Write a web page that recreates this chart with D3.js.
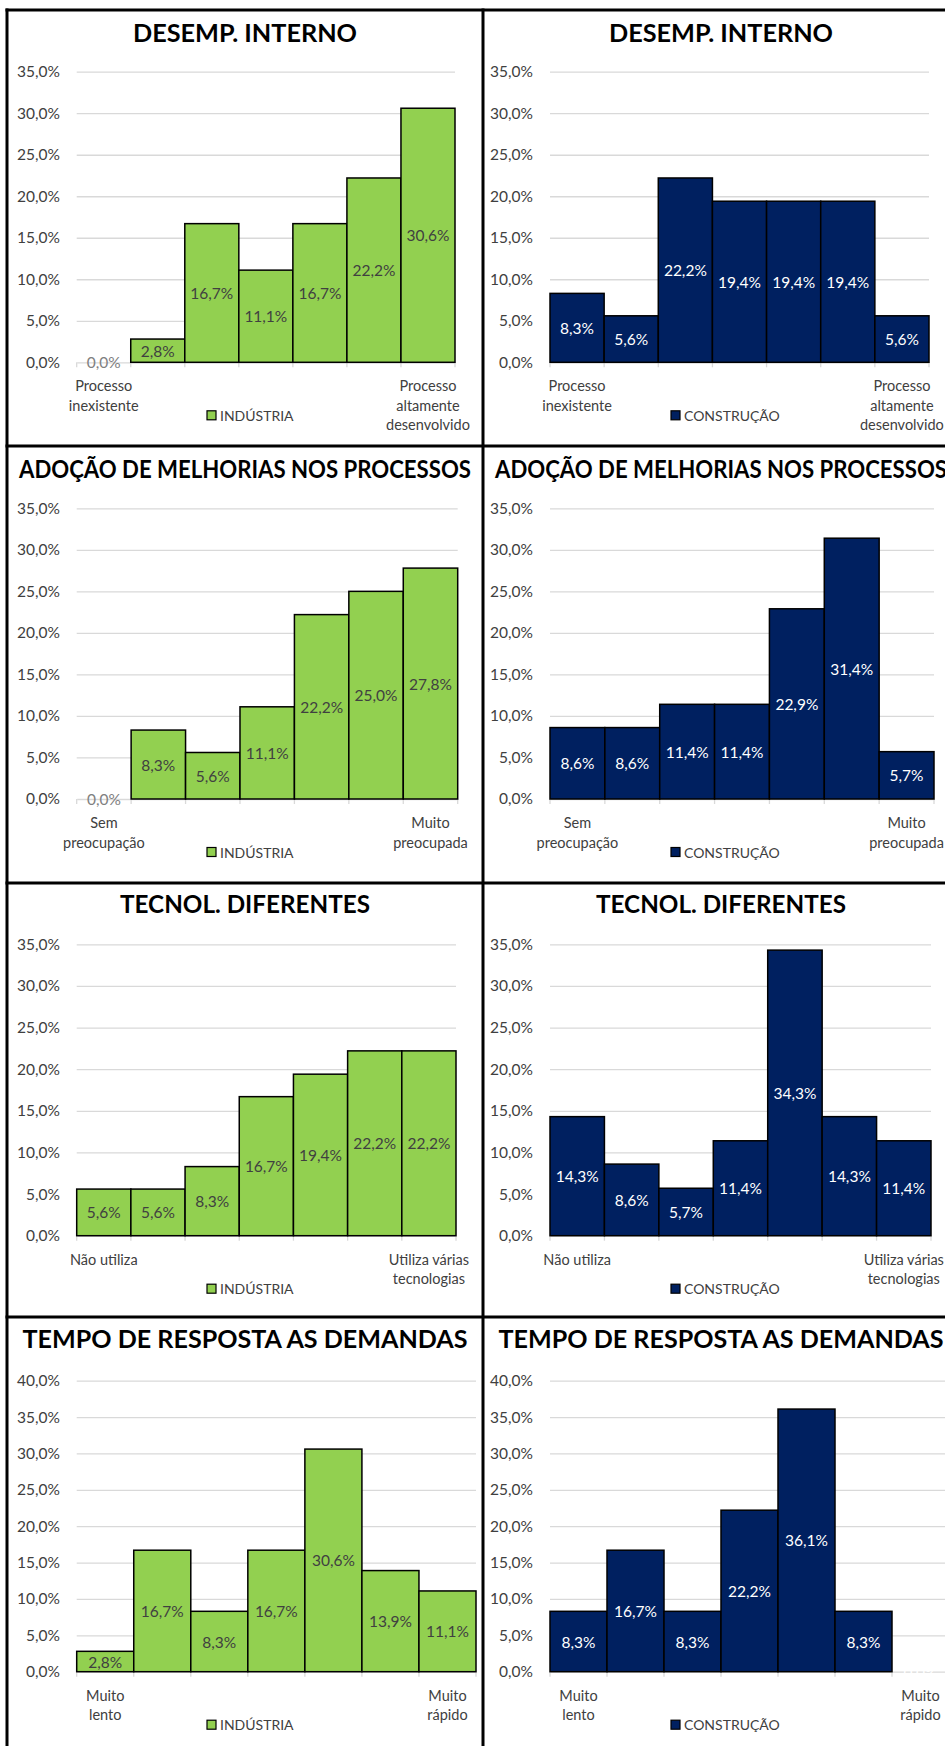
<!DOCTYPE html>
<html>
<head>
<meta charset="utf-8">
<script src="https://cdn.jsdelivr.net/npm/d3@7"></script>
<style>
  html, body { margin: 0; padding: 0; background: #fff; }
  svg { display: block; }
  text { font-family: Lato, "Open Sans", sans-serif; }
</style>
</head>
<body>
<svg id="chart" width="945" height="1746"></svg>
<script>
// Chart titles, one per row (both columns share the title)
const titles = [
  "DESEMP. INTERNO",
  "ADOÇÃO DE MELHORIAS NOS PROCESSOS",
  "TECNOL. DIFERENTES",
  "TEMPO DE RESPOSTA AS DEMANDAS"
];

// Scale end labels (first and last category)
const leftLabels = [
  ["Processo", "inexistente"],
  ["Sem", "preocupação"],
  ["Não utiliza"],
  ["Muito", "lento"]
];
const rightLabels = [
  ["Processo", "altamente", "desenvolvido"],
  ["Muito", "preocupada"],
  ["Utiliza várias", "tecnologias"],
  ["Muito", "rápido"]
];

// Seven-point scale categories
const categories = ["1", "2", "3", "4", "5", "6", "7"];

// Percent of respondents, INDÚSTRIA
const industria = [
  [0.0, 2.8, 16.7, 11.1, 16.7, 22.2, 30.6],
  [0.0, 8.3, 5.6, 11.1, 22.2, 25.0, 27.8],
  [5.6, 5.6, 8.3, 16.7, 19.4, 22.2, 22.2],
  [2.8, 16.7, 8.3, 16.7, 30.6, 13.9, 11.1]
];

// Percent of respondents, CONSTRUÇÃO
const construcao = [
  [8.3, 5.6, 22.2, 19.4, 19.4, 19.4, 5.6],
  [8.6, 8.6, 11.4, 11.4, 22.9, 31.4, 5.7],
  [14.3, 8.6, 5.7, 11.4, 34.3, 14.3, 11.4],
  [8.3, 16.7, 8.3, 22.2, 36.1, 8.3, 0.0]
];

// Value axis maximum per row
const yMax = [35, 35, 35, 40];

const seriesNames = ["INDÚSTRIA", "CONSTRUÇÃO"];

// ---- styling / layout ----
const seriesFill = ["#92D050", "#002060"];
const labelFill = ["#404040", "#ffffff"];
const gridColor = "#d9d9d9";
const textColor = "#404040";

const rowTop = [10, 446, 883, 1317];
const titleY = [32, 468, 903, 1338];
const titleWidth = [224, 452, 250, 445];
const plotTop = [71.7, 508.3, 944.3, 1380.7];
const plotBottom = [362.3, 799, 1235.7, 1671.7];
const plotX = [
  [[76.7, 455], [550, 929]],
  [[76.7, 457.7], [550, 934]],
  [[76.7, 456], [550, 931]],
  [[76.7, 476], [550, 949]]
];
const colLeft = [7, 483];
const titleX = [245, 721];
const tickLabelRight = [60, 533];
const legendX = [207, 671];

const svg = d3.select("#chart");
const fmt = v => d3.format(".1f")(v).replace(".", ",") + "%";

const datasets = [industria, construcao];

for (let r = 0; r < 4; r++) {
  for (let c = 0; c < 2; c++) {
    const values = datasets[c][r];
    const [x0, x1] = plotX[r][c];
    const g = svg.append("g");

    const x = d3.scaleBand().domain(categories).range([x0, x1]).paddingInner(0).paddingOuter(0);
    const y = d3.scaleLinear().domain([0, yMax[r]]).range([plotBottom[r], plotTop[r]]);
    const ticks = d3.range(0, yMax[r] + 0.001, 5);

    // title
    g.append("text")
      .attr("x", titleX[c]).attr("y", titleY[r])
      .attr("text-anchor", "middle").attr("dominant-baseline", "central")
      .attr("font-size", 25).attr("font-weight", 700).attr("fill", "#000")
      .attr("textLength", titleWidth[r]).attr("lengthAdjust", "spacingAndGlyphs")
      .text(titles[r]);

    // gridlines
    const grid = g.append("g")
      .attr("transform", `translate(${x0},0)`)
      .call(d3.axisLeft(y).tickValues(ticks.slice(1)).tickSize(-(x1 - x0)).tickFormat(""));
    grid.select(".domain").remove();
    grid.selectAll("line").attr("stroke", gridColor).attr("stroke-width", 1.3);

    // value axis labels
    const yAx = g.append("g")
      .attr("transform", `translate(${tickLabelRight[c]},0)`)
      .call(d3.axisLeft(y).tickValues(ticks).tickSize(0).tickPadding(0).tickFormat(fmt));
    yAx.select(".domain").remove();
    yAx.selectAll("text")
      .attr("font-size", 15.5).attr("fill", textColor)
      .attr("font-family", "Lato, sans-serif");

    // category axis with boundary tick marks
    const xAx = g.append("g")
      .attr("transform", `translate(0,${plotBottom[r]})`)
      .call(d3.axisBottom(x).tickSize(0).tickFormat(""));
    xAx.select(".domain").attr("stroke", gridColor).attr("stroke-width", 1.3);
    const bounds = categories.map(d => x(d)).concat([x(categories[6]) + x.bandwidth()]);
    g.selectAll(".btick").data(bounds).join("line")
      .attr("x1", d => d).attr("x2", d => d)
      .attr("y1", plotBottom[r]).attr("y2", plotBottom[r] + 5)
      .attr("stroke", gridColor).attr("stroke-width", 1.3);

    // bars
    g.selectAll(".bar").data(values).join("rect")
      .attr("x", (d, i) => x(categories[i]))
      .attr("width", x.bandwidth())
      .attr("y", d => y(d))
      .attr("height", d => y(0) - y(d))
      .attr("fill", seriesFill[c])
      .attr("stroke", d => d > 0 ? "#000" : "none")
      .attr("stroke-width", 1.5);

    // data labels centered in bars
    g.selectAll(".lbl").data(values).join("text")
      .attr("x", (d, i) => x(categories[i]) + x.bandwidth() / 2)
      .attr("y", d => y(d / 2))
      .attr("text-anchor", "middle").attr("dominant-baseline", "central")
      .attr("font-size", 15.5)
      .attr("fill", d => (d === 0 && c === 0) ? "#808080" : labelFill[c])
      .text(d => fmt(d));

    // end-of-scale labels
    const cx0 = x(categories[0]) + x.bandwidth() / 2;
    const cx1 = x(categories[6]) + x.bandwidth() / 2;
    const labY = plotBottom[r] + 23;
    [[leftLabels[r], cx0], [rightLabels[r], cx1]].forEach(([lines, cx]) => {
      const t = g.append("text")
        .attr("x", cx).attr("y", labY)
        .attr("text-anchor", "middle").attr("dominant-baseline", "central")
        .attr("font-size", 14.5).attr("fill", textColor);
      lines.forEach((ln, k) => t.append("tspan").attr("x", cx).attr("dy", k === 0 ? 0 : 19.5).text(ln));
    });

    // legend
    const ly = plotBottom[r] + 53;
    g.append("rect")
      .attr("x", legendX[c]).attr("y", ly - 4.5)
      .attr("width", 9).attr("height", 9)
      .attr("fill", seriesFill[c]).attr("stroke", "#000").attr("stroke-width", 1.2);
    g.append("text")
      .attr("x", legendX[c] + 13).attr("y", ly)
      .attr("dominant-baseline", "central")
      .attr("font-size", 14).attr("fill", textColor)
      .text(seriesNames[c]);
  }
}

// panel frame lines
const frame = svg.append("g").attr("stroke", "#000").attr("stroke-width", 3);
frame.append("line").attr("x1", colLeft[0]).attr("x2", colLeft[0]).attr("y1", rowTop[0] - 1.5).attr("y2", 1746);
frame.append("line").attr("x1", colLeft[1]).attr("x2", colLeft[1]).attr("y1", rowTop[0] - 1.5).attr("y2", 1746);
rowTop.forEach(yy => frame.append("line").attr("x1", colLeft[0] - 1.5).attr("x2", 945).attr("y1", yy).attr("y2", yy));
</script>
</body>
</html>
